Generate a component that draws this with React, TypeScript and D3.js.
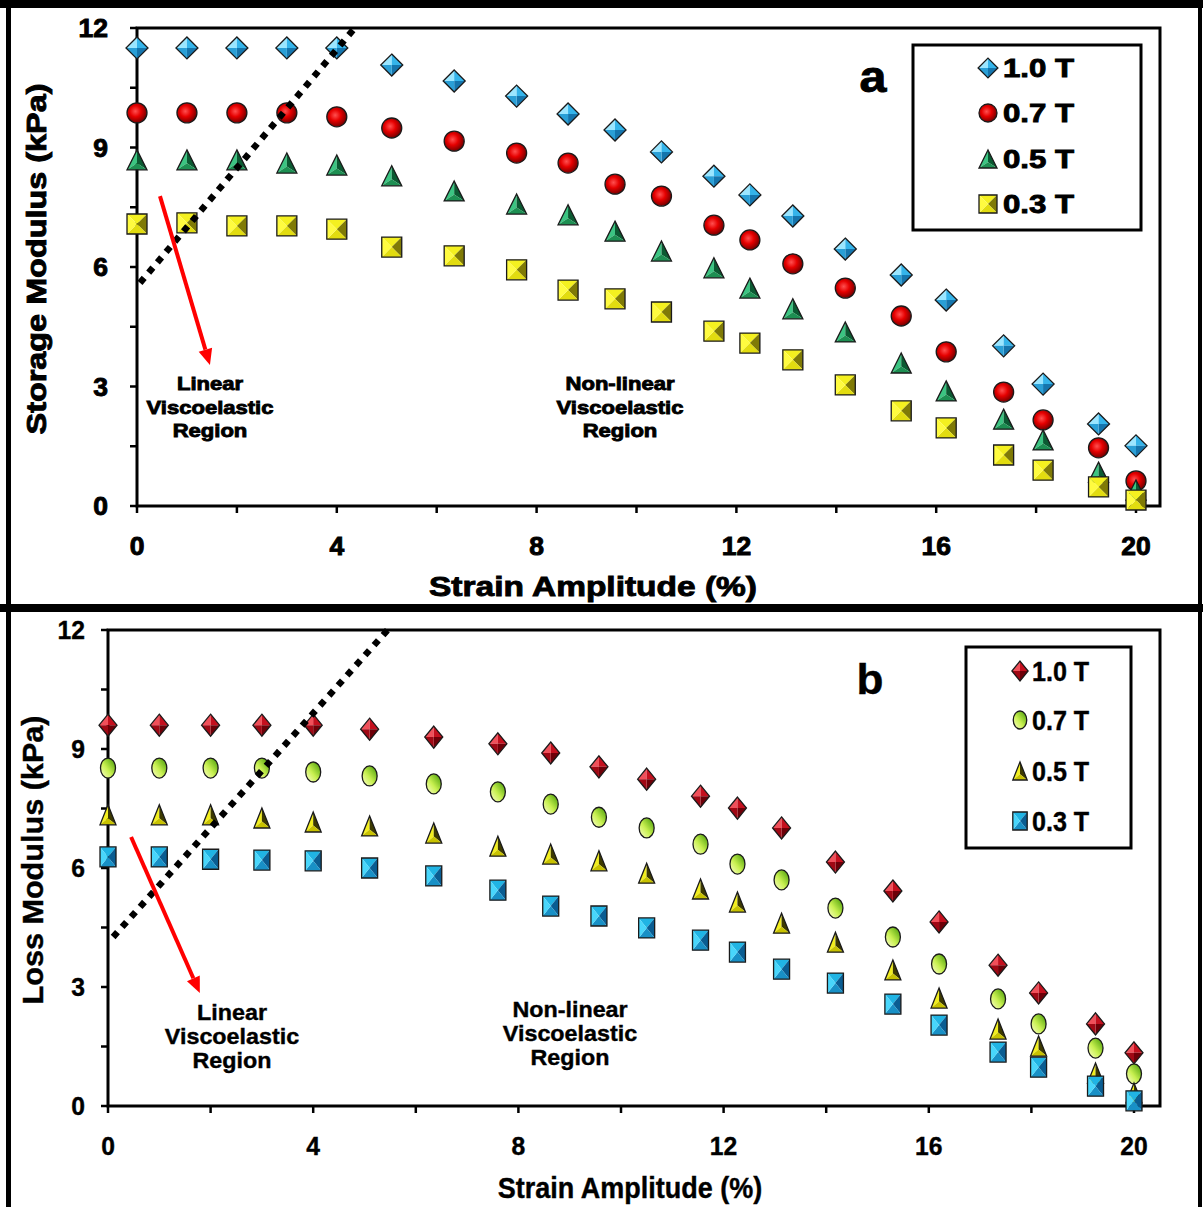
import React from "react";
import * as d3 from "d3";

// ---------- DATA ----------
const strain = [0, 1, 2, 3, 4, 5.1, 6.35, 7.6, 8.63, 9.57, 10.5, 11.55, 12.27, 13.13, 14.18, 15.3, 16.2, 17.35, 18.14, 19.25, 20];

const storage10 = [11.5, 11.5, 11.5, 11.5, 11.5, 11.07, 10.67, 10.29, 9.84, 9.44, 8.89, 8.28, 7.81, 7.28, 6.45, 5.8, 5.17, 4.02, 3.06, 2.06, 1.51];
const storage07 = [9.87, 9.87, 9.87, 9.87, 9.77, 9.49, 9.16, 8.86, 8.61, 8.08, 7.78, 7.05, 6.68, 6.08, 5.47, 4.77, 3.87, 2.86, 2.16, 1.46, 0.63];
const storage05 = [8.69, 8.69, 8.69, 8.61, 8.56, 8.29, 7.91, 7.58, 7.31, 6.9, 6.4, 5.98, 5.47, 4.95, 4.37, 3.59, 2.89, 2.18, 1.66, 0.85, 0.4];
const storage03 = [7.08, 7.11, 7.03, 7.03, 6.95, 6.5, 6.28, 5.93, 5.42, 5.2, 4.87, 4.39, 4.09, 3.67, 3.04, 2.39, 1.96, 1.28, 0.9, 0.48, 0.15];

const loss10 = [9.6, 9.6, 9.6, 9.6, 9.6, 9.5, 9.3, 9.13, 8.9, 8.55, 8.24, 7.81, 7.51, 7.01, 6.15, 5.42, 4.64, 3.55, 2.85, 2.07, 1.34];
const loss07 = [8.52, 8.52, 8.52, 8.52, 8.42, 8.32, 8.12, 7.92, 7.61, 7.28, 7.01, 6.6, 6.1, 5.7, 4.99, 4.26, 3.58, 2.7, 2.07, 1.46, 0.81];
const loss05 = [7.34, 7.34, 7.34, 7.26, 7.16, 7.06, 6.88, 6.55, 6.35, 6.18, 5.87, 5.47, 5.14, 4.61, 4.13, 3.43, 2.72, 1.94, 1.51, 0.83, 0.33];
const loss03 = [6.28, 6.28, 6.22, 6.2, 6.18, 6.0, 5.8, 5.44, 5.04, 4.79, 4.49, 4.18, 3.88, 3.45, 3.1, 2.57, 2.04, 1.36, 0.98, 0.5, 0.13];

const seriesLabels = ["1.0 T", "0.7 T", "0.5 T", "0.3 T"];
const yTicks = [0, 3, 6, 9, 12];
const yMinorTicks = [0, 1.5, 3, 4.5, 6, 7.5, 9, 10.5, 12];
const xTicks = [0, 4, 8, 12, 16, 20];
const xMinorTicks = [0, 2, 4, 6, 8, 10, 12, 14, 16, 18, 20];

// annotation geometry in data units
const dottedA = [[0.06, 5.6], [4.36, 12]];
const arrowA = [[0.46, 7.78], [1.46, 3.54]];
const dottedB = [[0.1, 4.26], [5.45, 12]];
const arrowB = [[0.45, 6.78], [1.79, 2.85]];

const FONT = "'Liberation Sans', Arial, sans-serif";

// ---------- MARKERS ----------
function Marker({ kind, x, y, w, h, colors, gid }: any) {
  const stroke = "#1a1a1a";
  const sw = 1.3;
  const hw = w / 2, hh = h / 2;
  const tri = (pts: number[][]) => "M" + pts.map((p) => p.join(",")).join("L") + "Z";
  if (kind === "diamond") {
    const T = [0, -hh], R = [hw, 0], B = [0, hh], L = [-hw, 0], C = [0, 0];
    return (
      <g transform={`translate(${x},${y})`}>
        <path d={tri([L, T, C])} fill={colors[0]} />
        <path d={tri([T, R, C])} fill={colors[1]} />
        <path d={tri([R, B, C])} fill={colors[2]} />
        <path d={tri([B, L, C])} fill={colors[3]} />
        <path d={tri([T, R, B, L])} fill="none" stroke={stroke} strokeWidth={sw} />
      </g>
    );
  }
  if (kind === "square") {
    const TL = [-hw, -hh], TR = [hw, -hh], BR = [hw, hh], BL = [-hw, hh], C = [0, 0];
    return (
      <g transform={`translate(${x},${y})`}>
        <path d={tri([TL, TR, C])} fill={colors[0]} />
        <path d={tri([TR, BR, C])} fill={colors[1]} />
        <path d={tri([BR, BL, C])} fill={colors[2]} />
        <path d={tri([BL, TL, C])} fill={colors[3]} />
        <path d={tri([TL, TR, BR, BL])} fill="none" stroke={stroke} strokeWidth={sw} />
      </g>
    );
  }
  if (kind === "triangle") {
    const A = [0, -hh], BR = [hw, hh], BL = [-hw, hh], C = [0, hh * 0.35];
    return (
      <g transform={`translate(${x},${y})`}>
        <path d={tri([A, BL, C])} fill={colors[0]} />
        <path d={tri([A, BR, C])} fill={colors[1]} />
        <path d={tri([BL, BR, C])} fill={colors[2]} />
        <path d={tri([A, BR, BL])} fill="none" stroke={stroke} strokeWidth={sw} />
      </g>
    );
  }
  return (
    <ellipse cx={x} cy={y} rx={hw} ry={hh} fill={`url(#${gid})`} stroke={stroke} strokeWidth={sw} />
  );
}

// ---------- TEXT ----------
function T({ x, y, st, anchor = "middle", rotate = 0, heavy = 0, children }: any) {
  const [size, sx] = st;
  return (
    <text
      transform={`translate(${x},${y}) rotate(${rotate}) scale(${sx},1)`}
      textAnchor={anchor}
      fontFamily={FONT}
      fontWeight="bold"
      fontSize={size}
      fill="#000"
      stroke={heavy ? "#000" : "none"}
      strokeWidth={heavy}
    >
      {children}
    </text>
  );
}

function Panel({ cfg }: any) {
  const x = d3.scaleLinear().domain([0, 20]).range([cfg.x0, cfg.x20]);
  const y = d3.scaleLinear().domain([0, 12]).range([cfg.yBottom, cfg.yTop]);
  const line = d3.line<number[]>().x((d) => x(d[0])).y((d) => y(d[1]));
  const hv = cfg.heavy;
  const [a0, a1] = cfg.arrow;
  const ax0 = x(a0[0]), ay0 = y(a0[1]), ax1 = x(a1[0]), ay1 = y(a1[1]);
  const ang = Math.atan2(ay1 - ay0, ax1 - ax0);
  const headL = 16, headW = 7;
  const bx = ax1 - headL * Math.cos(ang), by = ay1 - headL * Math.sin(ang);
  const nx = -Math.sin(ang), ny = Math.cos(ang);
  const head = `M${ax1},${ay1}L${bx + nx * headW},${by + ny * headW}L${bx - nx * headW},${by - ny * headW}Z`;

  return (
    <g>
      <path
        d={`M${x(0)},${cfg.yTop}H${cfg.xRight}V${cfg.yBottom}H${x(0)}Z`}
        fill="none"
        stroke="#000"
        strokeWidth={3}
      />
      {yMinorTicks.map((t) => (
        <line key={"ym" + t} x1={x(0) - 7} x2={x(0)} y1={y(t)} y2={y(t)} stroke="#000" strokeWidth={2.5} />
      ))}
      {xMinorTicks.map((t) => (
        <line key={"xm" + t} x1={x(t)} x2={x(t)} y1={cfg.yBottom} y2={cfg.yBottom + 7} stroke="#000" strokeWidth={2.5} />
      ))}
      {yTicks.map((t) => (
        <T key={"yl" + t} x={cfg.yLabelX} y={y(t) + cfg.tick[0] * 0.36} st={cfg.tick} anchor="end" heavy={hv}>
          {t}
        </T>
      ))}
      {xTicks.map((t) => (
        <T key={"xl" + t} x={x(t)} y={cfg.xLabelY} st={cfg.tick} heavy={hv}>
          {t}
        </T>
      ))}
      <T x={cfg.xTitle[0]} y={cfg.xTitle[1]} st={cfg.xTitleSt} heavy={hv}>
        Strain Amplitude (%)
      </T>
      <T x={cfg.yTitle[0]} y={cfg.yTitle[1]} st={cfg.yTitleSt} rotate={-90} heavy={hv}>
        {cfg.yTitleText}
      </T>

      {cfg.series.map((s: any, si: number) =>
        s.values.map((v: number, i: number) => (
          <Marker key={si + "-" + i} kind={s.kind} x={x(strain[i])} y={y(v)} w={s.w} h={s.h} colors={s.colors} gid={s.gid} />
        ))
      )}

      <path d={line(cfg.dotted as any) as string} fill="none" stroke="#000" strokeWidth={6.5} strokeDasharray="6.5 7" />

      <line x1={ax0} y1={ay0} x2={bx} y2={by} stroke="#ff0000" strokeWidth={4} />
      <path d={head} fill="#ff0000" />

      {cfg.linearLines.map((t: string, i: number) => (
        <T key={"ll" + i} x={cfg.linearPos[0]} y={cfg.linearPos[1] + i * cfg.lineGap} st={cfg.ann} heavy={hv}>
          {t}
        </T>
      ))}
      {cfg.nonLinearLines.map((t: string, i: number) => (
        <T key={"nl" + i} x={cfg.nonLinearPos[0]} y={cfg.nonLinearPos[1] + i * cfg.lineGap} st={cfg.ann} heavy={hv}>
          {t}
        </T>
      ))}

      <T x={cfg.letterPos[0]} y={cfg.letterPos[1]} st={cfg.letterSt} heavy={hv}>
        {cfg.letter}
      </T>

      <rect x={cfg.legend.x} y={cfg.legend.y} width={cfg.legend.w} height={cfg.legend.h} fill="#fff" stroke="#000" strokeWidth={3} />
      {cfg.series.map((s: any, si: number) => (
        <g key={"lg" + si}>
          <Marker kind={s.kind} x={cfg.legend.mx} y={cfg.legend.ys[si]} w={s.w * 0.9} h={s.h * 0.9} colors={s.colors} gid={s.gid} />
          <T x={cfg.legend.tx} y={cfg.legend.ys[si] + cfg.legend.st[0] * 0.36} st={cfg.legend.st} anchor="start" heavy={hv}>
            {seriesLabels[si]}
          </T>
        </g>
      ))}
    </g>
  );
}

const cfgA = {
  x0: 137, x20: 1136, xRight: 1160, yBottom: 506, yTop: 28,
  heavy: 0.9,
  tick: [25, 1.06], xTitleSt: [27, 1.24], yTitleSt: [27, 1.2], ann: [19, 1.16], letterSt: [44, 1.1],
  yLabelX: 108, xLabelY: 555,
  xTitle: [593, 596], yTitle: [46, 259], yTitleText: "Storage Modulus  (kPa)",
  dotted: dottedA, arrow: arrowA,
  linearLines: ["Linear", "Viscoelastic", "Region"], linearPos: [210, 390],
  nonLinearLines: ["Non-linear", "Viscoelastic", "Region"], nonLinearPos: [620, 390],
  lineGap: 23.5,
  letter: "a", letterPos: [873, 92],
  legend: { x: 913, y: 45, w: 228, h: 185, mx: 988, tx: 1003, ys: [68, 113, 159, 204], st: [26, 1.2] },
  series: [
    { values: storage10, kind: "diamond", w: 22, h: 22, colors: ["#9be6ff", "#35b4ea", "#1575ad", "#2a9fd6"], gid: "" },
    { values: storage07, kind: "circle", w: 20, h: 20, colors: [], gid: "gRed" },
    { values: storage05, kind: "triangle", w: 20, h: 20, colors: ["#3cc482", "#0b5a32", "#1d8f52"], gid: "" },
    { values: storage03, kind: "square", w: 20, h: 20, colors: ["#f4f020", "#7f7a06", "#e2dc10", "#fffb40"], gid: "" },
  ],
};

const cfgB = {
  x0: 108, x20: 1134, xRight: 1160, yBottom: 1106, yTop: 630,
  heavy: 0.4,
  tick: [26, 0.95], xTitleSt: [30, 0.9], yTitleSt: [30, 1.02], ann: [22, 1.06], letterSt: [42, 1.05],
  yLabelX: 85, xLabelY: 1155,
  xTitle: [630, 1198], yTitle: [43, 860], yTitleText: "Loss Modulus (kPa)",
  dotted: dottedB, arrow: arrowB,
  linearLines: ["Linear", "Viscoelastic", "Region"], linearPos: [232, 1020],
  nonLinearLines: ["Non-linear", "Viscoelastic", "Region"], nonLinearPos: [570, 1017],
  lineGap: 24,
  letter: "b", letterPos: [870, 694],
  legend: { x: 966, y: 647, w: 165, h: 201, mx: 1020, tx: 1032, ys: [671, 720, 771, 821], st: [27, 0.93] },
  series: [
    { values: loss10, kind: "diamond", w: 18, h: 22, colors: ["#f0505a", "#c4101e", "#6e0008", "#a00814"], gid: "" },
    { values: loss07, kind: "ellipse", w: 15, h: 20, colors: [], gid: "gGreen" },
    { values: loss05, kind: "triangle", w: 16, h: 20, colors: ["#f2ee20", "#3d3a00", "#c8c200"], gid: "" },
    { values: loss03, kind: "square", w: 16, h: 20, colors: ["#20b4e4", "#0a5d92", "#1890c6", "#48d6fb"], gid: "" },
  ],
};

export default function App() {
  return (
    <svg width={1203} height={1207} style={{ position: "absolute", left: 0, top: 0, background: "#fff" }}>
      <defs>
        <radialGradient id="gRed" cx="42%" cy="42%" r="62%">
          <stop offset="0%" stopColor="#ff5050" />
          <stop offset="45%" stopColor="#e60000" />
          <stop offset="100%" stopColor="#6a0000" />
        </radialGradient>
        <linearGradient id="gGreen" x1="0" y1="1" x2="1" y2="0">
          <stop offset="0%" stopColor="#ffffd0" />
          <stop offset="45%" stopColor="#c8f050" />
          <stop offset="100%" stopColor="#3c9600" />
        </linearGradient>
      </defs>
      <rect x={0} y={0} width={1203} height={1207} fill="#fff" />
      <rect x={0} y={0} width={1203} height={8} fill="#000" />
      <rect x={6} y={0} width={5} height={1207} fill="#000" />
      <rect x={1198} y={0} width={4} height={1207} fill="#000" />
      <rect x={0} y={604} width={1203} height={8} fill="#000" />
      <Panel cfg={cfgA} />
      <Panel cfg={cfgB} />
    </svg>
  );
}
